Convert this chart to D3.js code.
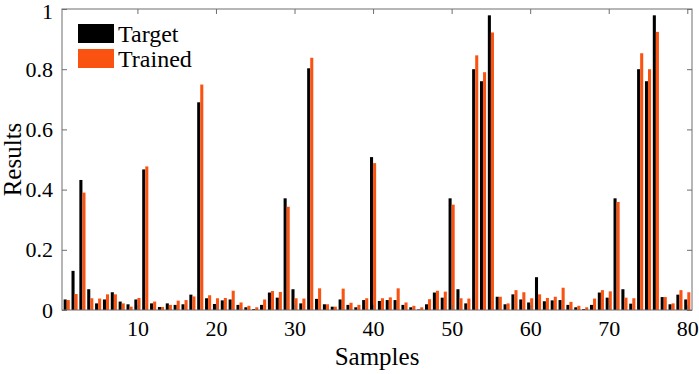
<!DOCTYPE html>
<html>
<head>
<meta charset="utf-8">
<script src="https://cdn.jsdelivr.net/npm/d3@7"></script>
<style>
  body { margin: 0; background: #fff; }
  svg text { font-family: "Liberation Serif", "Times New Roman", serif; fill: #000; }
</style>
</head>
<body>
<svg width="699" height="374"></svg>
<script>
// sample index 1..80
var samples = d3.range(1, 81);

var target = [
  0.035, 0.13, 0.432, 0.069, 0.022, 0.035, 0.059, 0.028, 0.019, 0.035,
  0.467, 0.022, 0.010, 0.022, 0.017, 0.019, 0.051, 0.690, 0.039, 0.020,
  0.032, 0.035, 0.017, 0.009, 0.003, 0.017, 0.058, 0.041, 0.371, 0.069,
  0.022, 0.803, 0.037, 0.019, 0.011, 0.035, 0.017, 0.009, 0.033, 0.508,
  0.030, 0.033, 0.033, 0.017, 0.009, 0.002, 0.019, 0.058, 0.041, 0.371,
  0.069, 0.022, 0.800, 0.760, 0.979, 0.044, 0.019, 0.052, 0.035, 0.025,
  0.109, 0.029, 0.032, 0.033, 0.017, 0.009, 0.003, 0.017, 0.058, 0.041,
  0.371, 0.069, 0.021, 0.800, 0.760, 0.979, 0.043, 0.019, 0.051, 0.035
];

var trained = [
  0.033, 0.053, 0.390, 0.039, 0.038, 0.052, 0.052, 0.022, 0.011, 0.040,
  0.477, 0.028, 0.010, 0.017, 0.031, 0.033, 0.045, 0.749, 0.049, 0.039,
  0.040, 0.064, 0.025, 0.014, 0.009, 0.035, 0.063, 0.060, 0.343, 0.039,
  0.038, 0.838, 0.072, 0.019, 0.011, 0.071, 0.024, 0.017, 0.039, 0.488,
  0.039, 0.042, 0.072, 0.025, 0.014, 0.009, 0.036, 0.064, 0.061, 0.350,
  0.039, 0.038, 0.846, 0.790, 0.922, 0.044, 0.022, 0.066, 0.059, 0.039,
  0.052, 0.040, 0.044, 0.074, 0.027, 0.014, 0.009, 0.038, 0.066, 0.062,
  0.359, 0.041, 0.039, 0.853, 0.800, 0.924, 0.043, 0.022, 0.066, 0.059
];

var seriesNames = ["Target", "Trained"];
var seriesColors = ["#000000", "#fa5311"];
var xTicks = [10, 20, 30, 40, 50, 60, 70, 80];
var yTicks = [0, 0.2, 0.4, 0.6, 0.8, 1];

var svg = d3.select("svg");
var margin = {left: 62, right: 7, top: 9, bottom: 64};
var W = 699, H = 374;
var axisColor = "#6e6e6e";

var x = d3.scaleLinear().domain([0.4, 80.6]).range([margin.left, W - margin.right]);
var y = d3.scaleLinear().domain([0, 1]).range([H - margin.bottom, margin.top]);

var step = x(2) - x(1);
var xSub = d3.scaleBand().domain(seriesNames).range([-step * 0.39, step * 0.39]);

var rows = samples.map(function(s, i) {
  return {sample: s, values: [target[i], trained[i]]};
});

// bars
var g = svg.append("g");
g.selectAll("g.grp")
  .data(rows)
  .enter().append("g")
    .attr("class", "grp")
    .attr("transform", function(d) { return "translate(" + x(d.sample) + ",0)"; })
  .selectAll("rect")
  .data(function(d) { return d.values.map(function(v, k) { return {k: k, v: v}; }); })
  .enter().append("rect")
    .attr("x", function(d) { return xSub(seriesNames[d.k]); })
    .attr("width", xSub.bandwidth())
    .attr("y", function(d) { return y(d.v); })
    .attr("height", function(d) { return y(0) - y(d.v); })
    .attr("fill", function(d) { return seriesColors[d.k]; });

// axes (ticks inward, box on)
var x0 = margin.left, x1 = W - margin.right, y0 = H - margin.bottom, y1 = margin.top;

svg.append("g")
    .attr("transform", "translate(0," + y0 + ")")
    .call(d3.axisBottom(x).tickValues(xTicks).tickSizeInner(-5).tickSizeOuter(0).tickPadding(9))
    .call(function(a) {
      a.select(".domain").remove();
      a.selectAll("line").attr("stroke", axisColor);
      a.selectAll("text").attr("font-size", 22).attr("dy", "0.75em");
    });

svg.append("g")
    .attr("transform", "translate(" + x0 + ",0)")
    .call(d3.axisLeft(y).tickValues(yTicks).tickFormat(d3.format("")).tickSizeInner(-5).tickSizeOuter(0).tickPadding(9))
    .call(function(a) {
      a.select(".domain").remove();
      a.selectAll("line").attr("stroke", axisColor);
      a.selectAll("text").attr("font-size", 22)
        .attr("dy", function(d) { return d === 1 ? "0.42em" : "0.32em"; });
    });

// mirrored ticks on top and right
svg.append("g")
    .attr("transform", "translate(0," + y1 + ")")
    .call(d3.axisTop(x).tickValues(xTicks).tickSizeInner(-5).tickSizeOuter(0).tickFormat(""))
    .call(function(a) { a.select(".domain").remove(); a.selectAll("line").attr("stroke", axisColor); });

svg.append("g")
    .attr("transform", "translate(" + x1 + ",0)")
    .call(d3.axisRight(y).tickValues(yTicks).tickSizeInner(-5).tickSizeOuter(0).tickFormat(""))
    .call(function(a) { a.select(".domain").remove(); a.selectAll("line").attr("stroke", axisColor); });

svg.append("rect")
    .attr("x", x0).attr("y", y1)
    .attr("width", x1 - x0).attr("height", y0 - y1)
    .attr("fill", "none")
    .attr("stroke", axisColor)
    .attr("stroke-width", 1);

// axis titles
svg.append("text")
    .attr("x", (x0 + x1) / 2)
    .attr("y", 365)
    .attr("text-anchor", "middle")
    .attr("font-size", 25)
    .text("Samples");

svg.append("text")
    .attr("transform", "translate(21," + ((y0 + y1) / 2) + ") rotate(-90)")
    .attr("text-anchor", "middle")
    .attr("font-size", 25)
    .text("Results");

// legend
var legend = svg.append("g").attr("transform", "translate(78,24)");
seriesNames.forEach(function(name, k) {
  legend.append("rect")
      .attr("x", 0).attr("y", k * 25)
      .attr("width", 36).attr("height", 19)
      .attr("fill", seriesColors[k]);
  legend.append("text")
      .attr("x", 40).attr("y", k * 25 + 18)
      .attr("font-size", 24)
      .text(name);
});
</script>
</body>
</html>
